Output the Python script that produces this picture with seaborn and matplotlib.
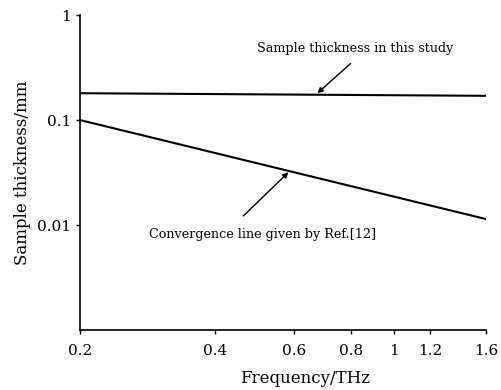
import matplotlib
matplotlib.use("Agg")
import matplotlib.pyplot as plt
import seaborn as sns
import pandas as pd
from matplotlib.ticker import NullLocator, FixedLocator, FixedFormatter

# Data
freq = [0.2, 1.6]
sample_thickness = [0.18, 0.17]
convergence_line = [0.1, 0.0114]
x_ticks = [0.2, 0.4, 0.6, 0.8, 1, 1.2, 1.6]
x_tick_labels = ["0.2", "0.4", "0.6", "0.8", "1", "1.2", "1.6"]
y_ticks = [0.01, 0.1, 1]
y_tick_labels = ["0.01", "0.1", "1"]

sns.set_style("ticks")
plt.rcParams["font.family"] = ["DejaVu Serif"]
plt.rcParams["mathtext.fontset"] = "dejavuserif"
plt.rcParams["text.color"] = "black"

df = pd.DataFrame({
    "freq": freq + freq,
    "value": sample_thickness + convergence_line,
    "series": ["study"] * len(freq) + ["conv"] * len(freq),
})

fig = plt.figure(figsize=(5.02, 3.9), dpi=100)
ax = fig.add_axes([0.159, 0.1538, 0.809, 0.8077])
sns.lineplot(data=df, x="freq", y="value", hue="series",
             palette={"study": "black", "conv": "black"},
             linewidth=1.5, legend=False, ax=ax)
ax.set_xscale("log")
ax.set_yscale("log")
ax.set_xlim(0.2, 1.6)
ax.set_ylim(0.001, 1)

ax.xaxis.set_major_locator(FixedLocator(x_ticks))
ax.xaxis.set_major_formatter(FixedFormatter(x_tick_labels))
ax.xaxis.set_minor_locator(NullLocator())
ax.yaxis.set_major_locator(FixedLocator(y_ticks))
ax.yaxis.set_major_formatter(FixedFormatter(y_tick_labels))
ax.yaxis.set_minor_locator(NullLocator())
ax.tick_params(axis="both", direction="out", length=3, width=1, labelsize=11,
               colors="black", labelcolor="black")
ax.tick_params(axis="x", pad=7)

sns.despine(ax=ax)
for s in ["left", "bottom"]:
    ax.spines[s].set_linewidth(1.2)
    ax.spines[s].set_color("black")

ax.set_xlabel("Frequency/THz", fontsize=12, color="black")
ax.xaxis.set_label_coords(0.5 + 22 / 406, -0.128)
ax.set_ylabel("Sample thickness/mm", fontsize=12, labelpad=4, color="black")

ax.text(0.82, 0.48, "Sample thickness in this study", ha="center", va="center",
        fontsize=9.2, color="black")
ax.annotate("", xy=(0.675, 0.18), xytext=(0.80, 0.345),
            arrowprops=dict(arrowstyle="-|>", color="black", lw=1.0, shrinkA=0, shrinkB=0,
                            mutation_scale=8))
ax.text(0.509, 0.00805, "Convergence line given by Ref.[12]", ha="center", va="center",
        fontsize=9.2, color="black")
ax.annotate("", xy=(0.585, 0.0325), xytext=(0.462, 0.0122),
            arrowprops=dict(arrowstyle="-|>", color="black", lw=1.0, shrinkA=0, shrinkB=1,
                            mutation_scale=8))

fig.savefig("out.png", dpi=100)
